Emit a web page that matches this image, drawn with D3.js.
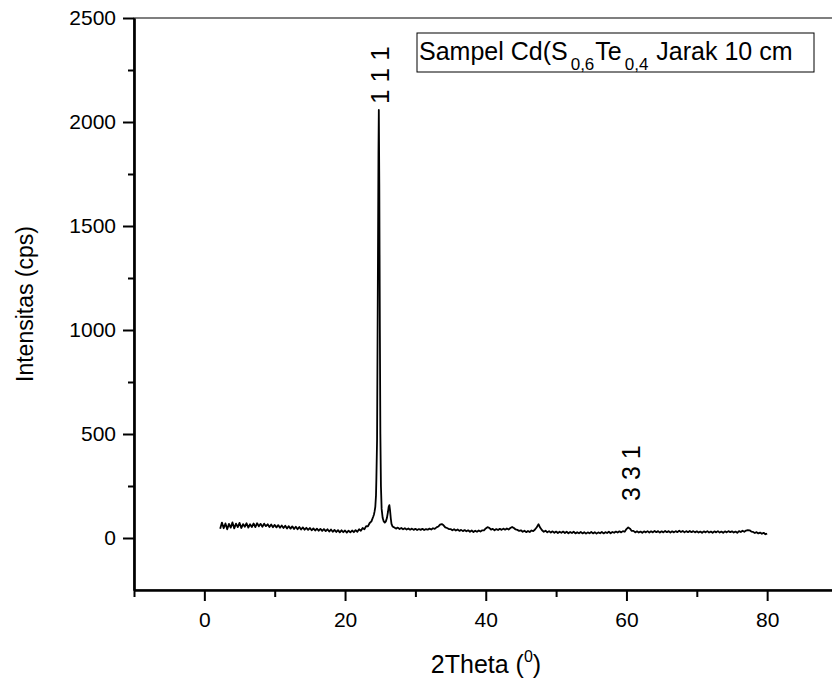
<!DOCTYPE html>
<html>
<head>
<meta charset="utf-8">
<script src="https://cdn.jsdelivr.net/npm/d3@7"></script>
<style>
  body { margin: 0; background: #fff; }
  svg { display: block; }
  text { font-family: "Liberation Sans", Arial, sans-serif; fill: #000; }
</style>
</head>
<body>
<div id="chart"></div>
<script>
// intensities (cps), low angle part, 2.25..24.0 step 0.25
const scanAStart = 2.25, scanAStep = 0.25;
const scanA = [
  44, 74, 47, 70,  42, 68, 50, 75,  46, 69, 52, 73,  48, 67, 54, 71,
  50, 66, 53, 70,  52, 71, 56, 68,  54, 69, 57, 66,  53, 65, 52, 63,
  51, 62, 49, 60,  48, 59, 46, 57,  45, 56, 43, 54,  42, 53, 41, 51,
  40, 49, 39, 48,  37, 46, 36, 45,  35, 44, 34, 43,  33, 42, 31, 41,
  30, 39, 29, 38,  27, 37, 28, 36,  26, 35, 27, 36,  28, 38, 30, 42,
  35, 48, 42, 57,  56, 72, 80, 102
];

// (111) peak and its neighbour, [2theta, cps]
const peakRegion = [
  [24.1, 112], [24.2, 128], [24.3, 150], [24.4, 205], [24.45, 280], [24.55, 470],
  [24.65, 1150], [24.75, 1850], [24.8, 2058], [24.87, 1700], [24.95, 1000],
  [25.02, 500], [25.1, 250], [25.2, 140], [25.35, 96], [25.5, 80], [25.65, 74],
  [25.8, 80], [25.95, 96], [26.1, 125], [26.2, 150], [26.3, 158], [26.4, 132],
  [26.5, 95], [26.6, 68], [26.75, 56], [26.9, 52]
];

// high angle part, 27.0..80.0 step 0.25
const scanBStart = 27.0, scanBStep = 0.25;
const scanB = [
  51, 45, 50, 43, 48, 42, 47, 41,
  46, 40, 45, 39, 44, 38, 43, 39,
  44, 38, 43, 40, 45, 41, 47, 44,
  51, 55, 64, 67, 61, 51, 48, 43,
  43, 37, 42, 36, 41, 34, 39, 33,
  38, 32, 37, 30, 36, 29, 35, 30,
  36, 31, 37, 37, 46, 52, 49, 40,
  44, 37, 43, 38, 44, 39, 45, 40,
  46, 41, 48, 53, 48, 41, 39, 34,
  37, 30, 35, 28, 34, 29, 36, 33,
  41, 52, 66, 49, 37, 30, 35, 27,
  33, 26, 32, 25, 31, 24, 30, 25,
  31, 24, 30, 23, 29, 24, 30, 22,
  28, 23, 29, 22, 28, 21, 27, 23,
  29, 22, 28, 21, 27, 23, 29, 22,
  28, 24, 30, 23, 29, 25, 31, 26,
  32, 27, 33, 30, 43, 51, 45, 34,
  34, 27, 32, 26, 31, 25, 32, 27,
  33, 26, 32, 27, 34, 28, 33, 26,
  32, 27, 34, 28, 33, 26, 32, 27,
  33, 28, 35, 29, 34, 27, 33, 28,
  34, 28, 33, 27, 32, 26, 31, 25,
  32, 27, 33, 26, 31, 25, 32, 27,
  33, 26, 31, 25, 32, 27, 33, 28,
  32, 26, 31, 25, 33, 29, 35, 30,
  36, 38, 37, 31, 29, 24, 28, 22,
  26, 20, 25, 18, 21
];

const xMajor = [0, 20, 40, 60, 80];
const xMinor = [-10, 10, 30, 50, 70, 90];
const yMajor = [0, 500, 1000, 1500, 2000, 2500];
const yMinor = [250, 750, 1250, 1750, 2250];

const peakLabels = [
  { text: "1 1 1", theta: 24.8, cps: 2225, size: 26 },
  { text: "3 3 1", theta: 60.5, cps: 312, size: 25 }
];

const data = []
  .concat(scanA.map((v, i) => [scanAStart + i * scanAStep, v]))
  .concat(peakRegion)
  .concat(scanB.map((v, i) => [scanBStart + i * scanBStep, v]));

const W = 832, H = 684;
const mLeft = 134, mTop = 18, mRight = 837.5, mBottom = 590;
const FONT = '"Liberation Sans", Arial, sans-serif';

const svg = d3.select('#chart').append('svg')
    .attr('width', W)
    .attr('height', H);

const x = d3.scaleLinear().domain([-10, 90]).range([mLeft, mRight]);
const y = d3.scaleLinear().domain([-250, 2500]).range([mBottom, mTop]);

// thin frame (top / right)
svg.append('rect')
    .attr('x', mLeft).attr('y', mTop)
    .attr('width', mRight - mLeft).attr('height', mBottom - mTop)
    .attr('fill', 'none')
    .attr('stroke', '#000')
    .attr('stroke-width', 1);

// data line
const line = d3.line()
    .x(d => x(d[0]))
    .y(d => y(d[1]));

svg.append('path')
    .datum(data)
    .attr('fill', 'none')
    .attr('stroke', '#000')
    .attr('stroke-width', 1.8)
    .attr('stroke-linejoin', 'round')
    .attr('d', line);

// axes
const styleAxis = g => {
  g.attr('font-family', FONT);
  g.select('.domain').attr('stroke-width', 2.2);
  g.selectAll('.tick line').attr('stroke-width', 2);
  g.selectAll('.tick text').style('font-size', '21px');
};

svg.append('g')
    .attr('transform', `translate(0,${mBottom})`)
    .call(d3.axisBottom(x).tickValues(xMinor).tickSize(7).tickSizeOuter(0).tickFormat(''))
    .call(styleAxis);

svg.append('g')
    .attr('transform', `translate(0,${mBottom})`)
    .call(d3.axisBottom(x).tickValues(xMajor).tickSize(11).tickSizeOuter(0)
        .tickPadding(11).tickFormat(d3.format('d')))
    .call(styleAxis);

svg.append('g')
    .attr('transform', `translate(${mLeft},0)`)
    .call(d3.axisLeft(y).tickValues(yMinor).tickSize(6).tickSizeOuter(0).tickFormat(''))
    .call(styleAxis);

svg.append('g')
    .attr('transform', `translate(${mLeft},0)`)
    .call(d3.axisLeft(y).tickValues(yMajor).tickSize(11).tickSizeOuter(0)
        .tickPadding(7).tickFormat(d3.format('d')))
    .call(styleAxis);

// peak labels (vertical)
peakLabels.forEach(p => {
  svg.append('text')
      .attr('transform', `translate(${x(p.theta) + 10},${y(p.cps)}) rotate(-90)`)
      .attr('text-anchor', 'middle')
      .style('font-size', p.size + 'px')
      .text(p.text);
});

// axis titles
svg.append('text')
    .attr('transform', `translate(33,${(mTop + mBottom) / 2}) rotate(-90)`)
    .attr('text-anchor', 'middle')
    .style('font-size', '23px')
    .text('Intensitas (cps)');

const xt = svg.append('text')
    .attr('x', 486).attr('y', 673)
    .attr('text-anchor', 'middle')
    .style('font-size', '25px');
xt.append('tspan').text('2Theta (');
xt.append('tspan').attr('dy', -11).style('font-size', '16px').text('0');
xt.append('tspan').attr('dy', 11).text(')');

// legend box
svg.append('rect')
    .attr('x', 417).attr('y', 33)
    .attr('width', 397).attr('height', 39)
    .attr('fill', '#fff')
    .attr('stroke', '#000')
    .attr('stroke-width', 1);

const lg = svg.append('text')
    .attr('x', 419).attr('y', 60)
    .style('font-size', '25px');
lg.append('tspan').text('Sampel Cd(S');
lg.append('tspan').attr('dx', 3).attr('dy', 10).style('font-size', '17px').text('0,6');
lg.append('tspan').attr('dx', 1).attr('dy', -10).text('Te');
lg.append('tspan').attr('dx', 3).attr('dy', 10).style('font-size', '17px').text('0,4');
lg.append('tspan').attr('dx', 1).attr('dy', -10).text(' Jarak 10 cm');
</script>
</body>
</html>
